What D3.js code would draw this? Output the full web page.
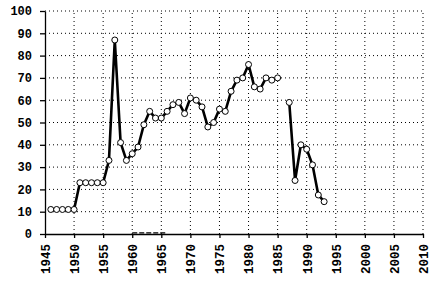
<!DOCTYPE html>
<html><head><meta charset="utf-8">
<script src="https://cdn.jsdelivr.net/npm/d3@7"></script>
<style>
html,body{margin:0;padding:0;background:#fff;}
svg{display:block;}
</style></head>
<body>
<svg id="chart" width="434" height="281"></svg>
<script>
const years = [1946,1947,1948,1949,1950,1951,1952,1953,1954,1955,1956,1957,1958,1959,1960,1961,1962,1963,1964,1965,1966,1967,1968,1969,1970,1971,1972,1973,1974,1975,1976,1977,1978,1979,1980,1981,1982,1983,1984,1985,1986,1987,1988,1989,1990,1991,1992,1993];
const values = [11,11,11,11,11,23,23,23,23,23,33,87,41,33,36,39,49,55,52,52,55,58,59,54,61,60,57,48,50,56,55,64,69,70,76,66,65,70,69,70,null,59,24,40,38,31,17.5,14.5];
const baseYears = [1960,1961,1962,1963,1964,1965,1966];
const baseValues = [0.5,0.5,0.5,0.5,0.5,0.5,0.5];
const xTicks = [1945,1950,1955,1960,1965,1970,1975,1980,1985,1990,1995,2000,2005,2010];
const yTicks = [0,10,20,30,40,50,60,70,80,90,100];

const svg = d3.select("#chart");
const x = d3.scaleLinear().domain([1945,2010]).range([45,423]);
const y = d3.scaleLinear().domain([0,100]).range([234,11]);
const font = "'Liberation Mono', 'DejaVu Sans Mono', monospace";

// grid
svg.append("g").selectAll("line").data(xTicks.slice(1)).join("line")
  .attr("x1",d=>x(d)).attr("x2",d=>x(d)).attr("y1",y(0)).attr("y2",y(100))
  .attr("stroke","#000").attr("stroke-width",1).attr("stroke-dasharray","1,3");
svg.append("g").selectAll("line").data(yTicks.slice(1)).join("line")
  .attr("x1",x(1945)).attr("x2",x(2010)).attr("y1",d=>y(d)).attr("y2",d=>y(d))
  .attr("stroke","#000").attr("stroke-width",1).attr("stroke-dasharray","1,3");

// axes
const xAxis = svg.append("g").attr("transform",`translate(0,${y(0)})`)
  .call(d3.axisBottom(x).tickValues(xTicks).tickFormat(d3.format("d")).tickSize(4).tickSizeOuter(0));
xAxis.select(".domain").attr("stroke","#000").attr("stroke-width",1.3);
xAxis.selectAll(".tick line").attr("stroke","#000").attr("stroke-width",1.3);
xAxis.selectAll("text").attr("transform","rotate(-90)").attr("text-anchor","end")
  .attr("x",-10).attr("y",0).attr("dy","0.35em")
  .style("font-family",font).style("font-size","12.5px").style("font-weight","bold").attr("fill","#000");

const yAxis = svg.append("g").attr("transform",`translate(${x(1945)},0)`)
  .call(d3.axisLeft(y).tickValues(yTicks).tickSize(5).tickSizeOuter(0).tickPadding(8));
yAxis.select(".domain").attr("stroke","#000").attr("stroke-width",1.3);
yAxis.selectAll(".tick line").attr("stroke","#000").attr("stroke-width",1.3);
yAxis.selectAll("text").style("font-family",font).style("font-size","12px").style("font-weight","bold").attr("fill","#000");

// near-zero faint segment
svg.append("path").datum(baseYears.map((d,i)=>[d,baseValues[i]]))
  .attr("fill","none").attr("stroke","#000").attr("stroke-width",1.3).attr("stroke-dasharray","5,2")
  .attr("d",d3.line().x(d=>x(d[0])).y(d=>y(d[1])));

// main series
const data = years.map((d,i)=>({year:d,value:values[i]}));
svg.append("path").datum(data)
  .attr("fill","none").attr("stroke","#000").attr("stroke-width",2.6).attr("stroke-linejoin","round")
  .attr("d",d3.line().defined(d=>d.value!==null).x(d=>x(d.year)).y(d=>y(d.value)));
svg.append("g").selectAll("circle").data(data.filter(d=>d.value!==null)).join("circle")
  .attr("cx",d=>x(d.year)).attr("cy",d=>y(d.value)).attr("r",3)
  .attr("fill","#fff").attr("stroke","#000").attr("stroke-width",1);
</script>
</body></html>
